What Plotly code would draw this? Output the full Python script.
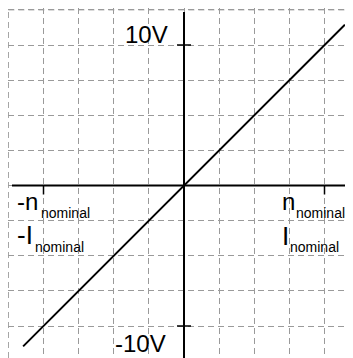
import plotly.graph_objects as go

# 1. Dados (valores normalizados: 1 = valor nominal)
speed = [-1.145, 1.145]
voltage = [-1.145, 1.145]
x_ticks = [-1, 1]
y_ticks = [-1, 1]
y_tick_labels = ["-10V", "10V"]
grid_step = 0.25
grid_edge = 1.25  # borda esquerda / superior da grade

# 2. Escala: pixels da página <-> dados (o body do html tem margem de 8px)
PAGE = 8
WIN_W, WIN_H = 353, 358
W, H = WIN_W - PAGE, WIN_H - PAGE
ML, MT = 0, 0
SCALE = 140.5
OX, OY = 184, 185.5


def to_x(px):
    return (px - OX) / SCALE


def to_y(py):
    return (OY - py) / SCALE


x_range = [to_x(PAGE + ML), to_x(WIN_W)]
y_range = [to_y(WIN_H), to_y(PAGE + MT)]

FONT = "Liberation Sans, Arial, sans-serif"
GRID_COLOR = "#9a9a9a"
GRID_DASH = "6px,4px"

fig = go.Figure()

# 3. Reta
fig.add_trace(go.Scatter(
    x=speed, y=voltage, mode="lines",
    line=dict(color="black", width=2),
    hoverinfo="skip", showlegend=False,
))

# 4. Bordas da grade + eixos (shapes)
shapes = [
    dict(type="line", xref="x", yref="y", x0=-grid_edge, x1=-grid_edge,
         y0=y_range[0], y1=grid_edge, layer="below",
         line=dict(color=GRID_COLOR, width=1, dash=GRID_DASH)),
    dict(type="line", xref="x", yref="y", x0=-grid_edge, x1=x_range[1],
         y0=grid_edge, y1=grid_edge, layer="below",
         line=dict(color=GRID_COLOR, width=1, dash=GRID_DASH)),
    dict(type="line", xref="x", yref="y", x0=to_x(12), x1=x_range[1], y0=0, y1=0,
         line=dict(color="black", width=2)),
    dict(type="line", xref="x", yref="y", x0=0, x1=0, y0=y_range[0], y1=to_y(12),
         line=dict(color="black", width=2)),
]
for xt in x_ticks:
    shapes.append(dict(type="line", xref="x", yref="y", ysizemode="pixel", yanchor=0,
                       x0=xt, x1=xt, y0=0, y1=-9, line=dict(color="black", width=1.5)))
for yt in y_ticks:
    shapes.append(dict(type="line", xref="x", yref="y", xsizemode="pixel", xanchor=0,
                       x0=-7, x1=7, y0=yt, y1=yt, line=dict(color="black", width=1.5)))


# 5. Rótulos (posições em pixels da página; centro = linha de base - 0.3465*fonte)
def label(text, px, baseline, size, anchor="left"):
    return dict(text=text, xref="x", yref="y", x=to_x(px), y=to_y(baseline - 0.3465 * size),
                xanchor=anchor, yanchor="middle", showarrow=False,
                borderpad=0, borderwidth=0,
                font=dict(family=FONT, size=size, color="black"))


annotations = [
    label(y_tick_labels[1], 167.5, 43.3, 24, "right"),
    label(y_tick_labels[0], 165.5, 352, 24, "right"),
    label("-n", 17, 210, 24),
    label("nominal", 40.5, 218, 14),
    label("-I", 17, 244, 26),
    label("nominal", 34.5, 252, 14),
    label("n", 281.5, 210, 24),
    label("nominal", 296, 218, 14),
    label("I", 281.5, 245, 26),
    label("nominal", 289.5, 252, 14),
]

grid = dict(showgrid=True, gridcolor=GRID_COLOR, gridwidth=1, griddash=GRID_DASH,
            tick0=0, dtick=grid_step, zeroline=False, showline=False,
            showticklabels=False, ticks="", fixedrange=True)

fig.update_layout(
    width=W, height=H,
    margin=dict(l=ML, r=0, t=MT, b=0, pad=0),
    paper_bgcolor="white", plot_bgcolor="white",
    xaxis=dict(range=x_range, **grid),
    yaxis=dict(range=y_range, **grid),
    shapes=shapes, annotations=annotations,
    hovermode=False, showlegend=False,
)

fig.write_html("out.html", config={"displayModeBar": False})
